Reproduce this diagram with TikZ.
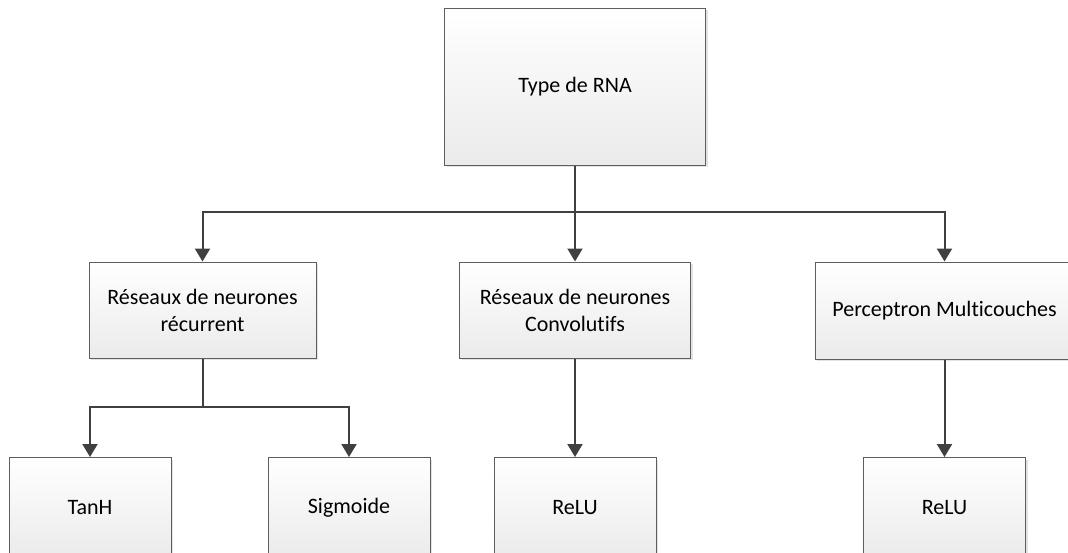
\documentclass[tikz,border=0pt]{standalone}
\usepackage{fontspec}
\setmainfont{Carlito}[Ligatures=NoCommon]
\usetikzlibrary{arrows.meta,shadows}
\definecolor{boxline}{HTML}{5E5E5E}
\definecolor{arrowgray}{HTML}{404040}
\tikzset{
  box/.style={draw=boxline, line width=1pt, rectangle, align=center,
    top color=white, bottom color=black!8,
    drop shadow={shadow xshift=2pt, shadow yshift=-2pt, fill=black!18, opacity=0.6},
    font=\fontsize{22}{27}\selectfont, inner sep=0pt},
  link/.style={draw=arrowgray, line width=2pt},
  arr/.style={link, -{Triangle[width=15pt,length=13pt]}}
}
\begin{document}
\begin{tikzpicture}[x=1pt,y=-1pt]
  \useasboundingbox (0,0) rectangle (1068,552);
  \clip (0,0) rectangle (1068,552);
  % root
  \node[box, minimum width=261, minimum height=157] (root) at (575,86.5) {Type de RNA};
  % second level
  \node[box, minimum width=227, minimum height=96] (rnr) at (202.5,310) {Réseaux de neurones\\récurrent};
  \node[box, minimum width=231, minimum height=96] (cnn) at (575,310) {Réseaux de neurones\\Convolutifs};
  \node[box, minimum width=259, minimum height=97] (mlp) at (944.5,310.5) {Perceptron Multicouches};
  % third level
  \node[box, minimum width=162, minimum height=100] (tanh) at (90,507.5) {TanH};
  \node[box, minimum width=162, minimum height=100] (sig) at (349,507.5) {Sigmoide};
  \node[box, minimum width=162, minimum height=100] (relu1) at (575,507.5) {ReLU};
  \node[box, minimum width=162, minimum height=100] (relu2) at (944.5,507.5) {ReLU};
  % junctions
  \coordinate (j1) at (575,212);
  \coordinate (j2) at (202.5,407);
  % connectors
  \draw[arr] (root.south) -- (j1) -| (rnr.north);
  \draw[arr] (j1) -- (cnn.north);
  \draw[arr] (j1) -| (mlp.north);
  \draw[arr] (rnr.south) -- (j2) -| (tanh.north);
  \draw[arr] (j2) -| (sig.north);
  \draw[arr] (cnn.south) -- (relu1.north);
  \draw[arr] (mlp.south) -- (relu2.north);
\end{tikzpicture}
\end{document}
